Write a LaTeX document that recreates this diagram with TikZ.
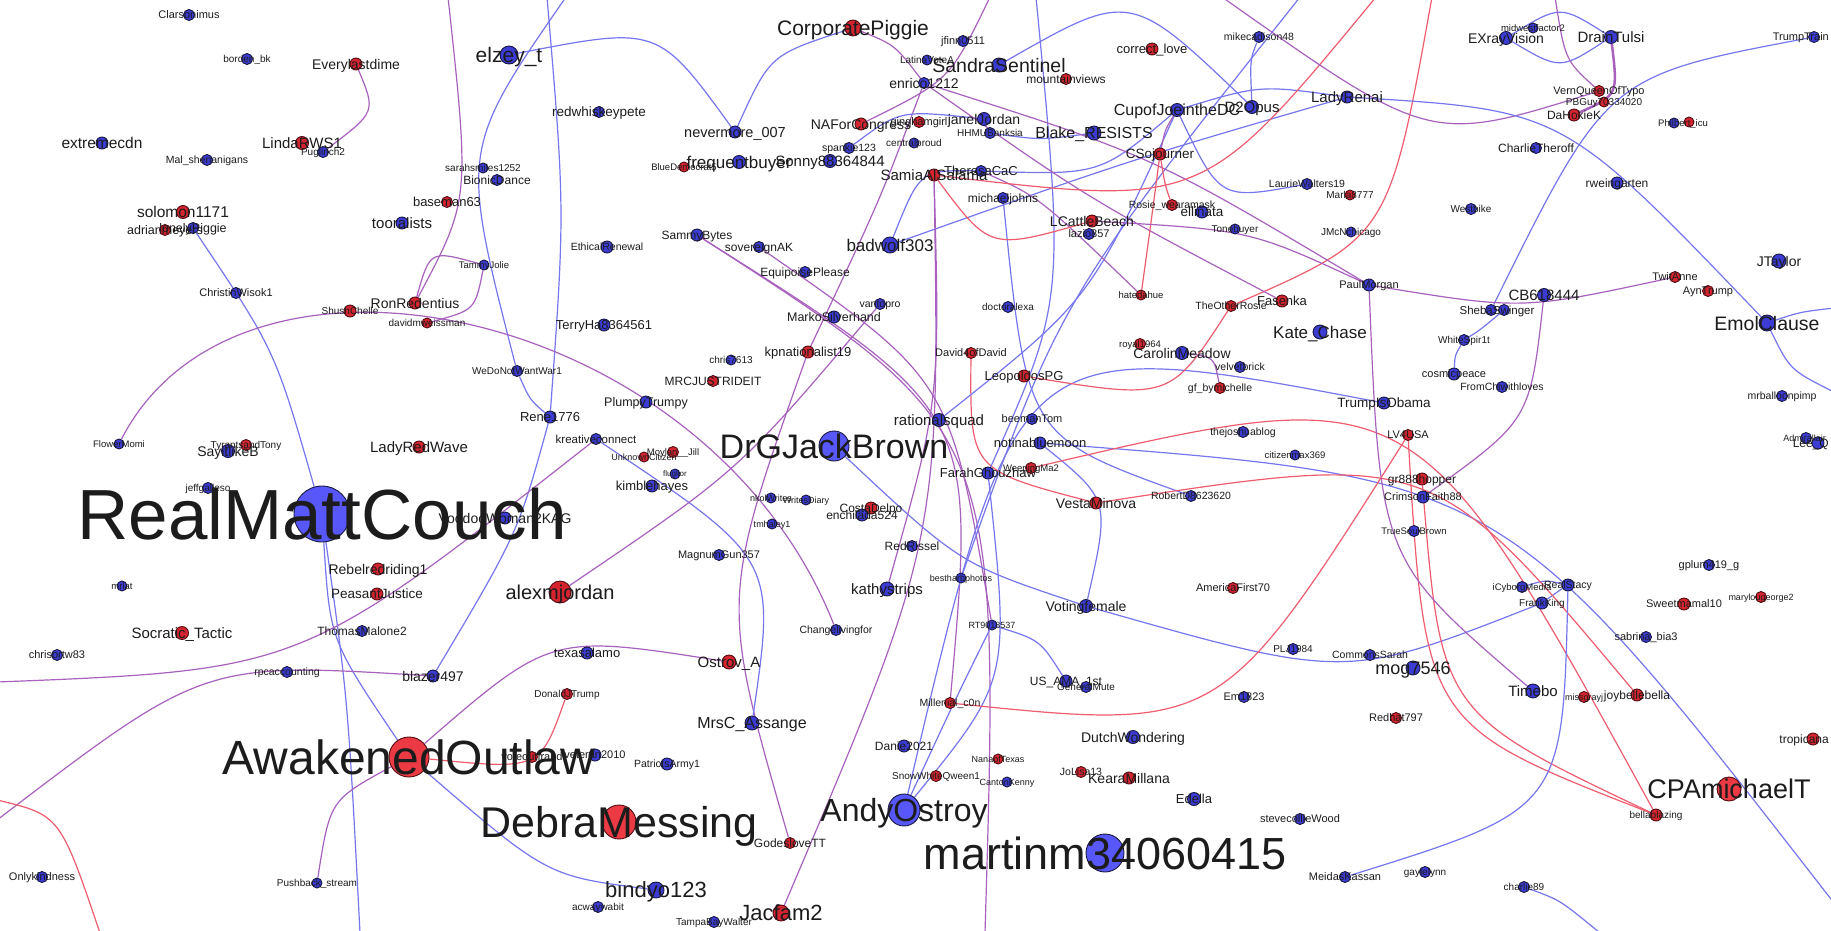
\documentclass[tikz,border=0pt]{standalone}
\usepackage{fontspec}
\setmainfont{Liberation Sans}
\usetikzlibrary{backgrounds}
\definecolor{nblue}{RGB}{60,60,212}
\definecolor{bblue}{RGB}{88,88,250}
\definecolor{nbord}{RGB}{24,24,64}
\definecolor{nred}{RGB}{212,36,48}
\definecolor{bred}{RGB}{236,58,68}
\definecolor{rbord}{RGB}{80,12,18}
\definecolor{eblue}{RGB}{118,118,238}
\definecolor{epurp}{RGB}{168,98,190}
\definecolor{ered}{RGB}{238,92,112}
\definecolor{txt}{RGB}{28,28,28}
\tikzset{
 bn/.style={circle,inner sep=0pt,minimum size=#1pt,fill=nblue,draw=nbord,line width=0.9pt},
 rn/.style={circle,inner sep=0pt,minimum size=#1pt,fill=nred,draw=rbord,line width=0.9pt},
 lbl/.style={inner sep=0pt,text=txt,anchor=base,yshift={-0.36*#1pt},font=\fontsize{#1}{#1}\selectfont},
 eb/.style={draw=eblue,line width=1.2pt},
 ep/.style={draw=epurp,line width=1.2pt},
 er/.style={draw=ered,line width=1.2pt},
}
\newcommand\BN[4]{\ifnum#2>23 \node[bn=#2,fill=bblue] (#1) at (#3,#4) {};\else\node[bn=#2] (#1) at (#3,#4) {};\fi}
\newcommand\RN[4]{\ifnum#2>23 \node[rn=#2,fill=bred] (#1) at (#3,#4) {};\else\node[rn=#2] (#1) at (#3,#4) {};\fi}
\newcommand\LB[3]{\node[lbl=#2] (t#1) at (#1) {#3};}
\begin{document}
\begin{tikzpicture}[x=1pt,y=-1pt]
\useasboundingbox (0,0) rectangle (1831,930);
% ---------------- nodes ----------------
\BN{clar}{11}{189}{15}
\BN{bord}{11}{247}{59}
\RN{every}{12}{356}{64}
\RN{linda}{13}{302}{143}
\BN{pugl}{11}{323}{152}
\BN{extr}{12}{102}{143}
\BN{mal}{11}{207}{160}
\RN{solo}{13}{183}{212}
\RN{adri}{11}{165}{230}
\BN{lonely}{11}{193}{228}
\BN{chrw}{11}{236}{293}
\BN{toor}{12}{402}{223}
\RN{basd}{11}{447}{202}
\RN{ronr}{12}{415}{303}
\RN{shush}{12}{350}{311}
\RN{davw}{10}{427}{323}
\BN{elzey}{18}{509}{55}
\BN{redw}{11}{599}{112}
\BN{never}{12}{735}{132}
\BN{freq}{13}{739}{162}
\RN{blued}{10}{684}{167}
\BN{sonny}{13}{830}{161}
\BN{spank}{11}{849}{148}
\RN{nafor}{12}{861}{124}
\RN{corp}{16}{853}{28}
\BN{latina}{10}{927}{60}
\BN{enric}{11}{924}{83}
\RN{samia}{12}{934}{175}
\BN{theresa}{11}{981}{171}
\BN{bionic}{11}{497}{180}
\BN{sarah}{10}{483}{168}
\BN{tammy}{10}{484}{265}
\BN{ethic}{12}{607}{247}
\BN{sammy}{12}{697}{235}
\BN{sover}{11}{759}{247}
\BN{equi}{11}{805}{272}
\BN{badw}{16}{890}{245}
\BN{vanl}{11}{880}{304}
\BN{jfinn}{11}{963}{41}
\BN{sandra}{14}{999}{65}
\RN{mount}{11}{1066}{79}
\RN{corre}{12}{1152}{49}
\BN{mikec}{11}{1259}{37}
\BN{ladyr}{12}{1347}{97}
\BN{cupj}{13}{1177}{110}
\BN{deplo}{13}{1252}{107}
\BN{janel}{13}{984}{119}
\RN{gingh}{11}{919}{122}
\BN{hhmu}{11}{990}{133}
\BN{centr}{10}{914}{143}
\BN{blake}{14}{1094}{133}
\RN{csoj}{12}{1160}{154}
\BN{laurie}{11}{1307}{184}
\RN{marla}{10}{1350}{195}
\RN{rosie}{11}{1172}{205}
\BN{ellin}{12}{1202}{212}
\BN{toneb}{10}{1235}{229}
\BN{jmcn}{10}{1351}{232}
\BN{micha}{11}{1003}{198}
\RN{lcatt}{12}{1092}{221}
\BN{lazio}{11}{1089}{234}
\RN{hated}{10}{1141}{295}
\RN{fasen}{12}{1282}{301}
\RN{other}{11}{1231}{306}
\BN{paulm}{12}{1369}{285}
\BN{docal}{11}{1008}{307}
\BN{exray}{13}{1506}{38}
\BN{midw}{10}{1533}{28}
\BN{drain}{13}{1611}{37}
\RN{vernq}{11}{1599}{91}
\RN{pbguy}{10}{1604}{102}
\RN{dahok}{12}{1574}{115}
\BN{philb}{10}{1674}{123}
\RN{philr}{10}{1689}{122}
\BN{charl}{11}{1536}{148}
\BN{rwein}{12}{1617}{183}
\BN{wesb}{11}{1471}{209}
\BN{jtay}{14}{1779}{261}
\BN{trumpt}{11}{1814}{37}
\RN{twita}{11}{1675}{277}
\RN{aynt}{11}{1708}{291}
\BN{cbsix}{13}{1544}{295}
\BN{shebA}{11}{1491}{310}
\BN{shebB}{11}{1504}{310}
\BN{flowr}{10}{119}{444}
\BN{sayit}{13}{228}{451}
\RN{tyran}{11}{246}{445}
\BN{jeffg}{11}{208}{488}
\BN{realm}{56}{322}{514}
\RN{ladyrw}{12}{419}{447}
\RN{rebel}{12}{378}{569}
\RN{peasa}{12}{377}{594}
\BN{mrlat}{10}{122}{586}
\BN{voodo}{12}{505}{518}
\BN{terry}{12}{604}{325}
\BN{wedon}{11}{517}{371}
\BN{rene}{12}{550}{417}
\BN{kreat}{11}{596}{439}
\BN{chrsix}{10}{731}{360}
\RN{mrcj}{11}{713}{381}
\BN{plump}{12}{646}{402}
\RN{kpnat}{12}{808}{352}
\BN{marko}{12}{834}{317}
\RN{moyl}{11}{673}{452}
\RN{unkn}{10}{644}{457}
\BN{flug}{10}{675}{474}
\BN{kimb}{12}{652}{486}
\BN{drg}{30}{834}{446}
\BN{nkow}{10}{771}{498}
\BN{wdiary}{10}{806}{500}
\BN{tmhal}{10}{772}{524}
\RN{costa}{12}{871}{508}
\BN{enchi}{12}{862}{515}
\BN{magnu}{11}{719}{555}
\RN{alexm}{22}{560}{592}
\BN{redri}{11}{912}{546}
\BN{kathy}{14}{887}{589}
\BN{ratio}{13}{939}{420}
\RN{david}{11}{971}{353}
\RN{leopo}{12}{1024}{376}
\BN{beema}{11}{1032}{419}
\BN{notin}{12}{1040}{443}
\BN{farah}{12}{988}{473}
\RN{weepi}{11}{1031}{468}
\RN{vesta}{12}{1096}{503}
\BN{rober}{11}{1191}{496}
\RN{royal}{11}{1140}{344}
\BN{carol}{13}{1182}{353}
\BN{velve}{11}{1240}{367}
\RN{gfbym}{11}{1220}{388}
\BN{katec}{14}{1320}{332}
\BN{thejo}{11}{1243}{432}
\BN{citiz}{10}{1295}{455}
\BN{besth}{10}{961}{578}
\BN{votin}{13}{1086}{606}
\RN{ameri}{11}{1233}{588}
\BN{trobam}{12}{1384}{403}
\BN{white}{11}{1464}{340}
\BN{cosmi}{12}{1454}{374}
\BN{fromc}{11}{1502}{387}
\RN{lvusa}{11}{1408}{435}
\RN{greight}{12}{1422}{479}
\BN{crims}{12}{1423}{497}
\BN{trues}{11}{1414}{531}
\BN{icybo}{11}{1522}{587}
\BN{stacy}{12}{1568}{585}
\BN{frank}{12}{1542}{603}
\BN{emolc}{16}{1767}{323}
\BN{mrbal}{11}{1782}{396}
\BN{admir}{11}{1806}{438}
\BN{leeq}{12}{1818}{443}
\BN{gplum}{11}{1709}{565}
\RN{sweet}{12}{1684}{604}
\RN{maryl}{11}{1761}{597}
\RN{socra}{13}{182}{633}
\BN{chrio}{11}{57}{655}
\BN{thoma}{11}{362}{631}
\BN{rpcac}{11}{287}{672}
\BN{blaze}{12}{433}{676}
\RN{awake}{40}{409}{757}
\BN{pushb}{10}{317}{883}
\BN{onlyk}{11}{42}{877}
\BN{texas}{12}{587}{653}
\RN{ostro}{14}{729}{662}
\RN{donal}{11}{567}{694}
\BN{mrsc}{14}{752}{723}
\RN{votew}{11}{532}{757}
\BN{veter}{12}{595}{755}
\BN{patri}{12}{667}{764}
\RN{debra}{34}{619}{822}
\BN{bindy}{16}{656}{890}
\BN{acway}{11}{598}{907}
\BN{tampa}{11}{714}{922}
\RN{jacfa}{16}{781}{913}
\RN{godes}{11}{790}{843}
\BN{chang}{11}{836}{630}
\BN{dani}{12}{904}{746}
\RN{snoww}{11}{936}{776}
\BN{andyo}{32}{904}{810}
\BN{rtnine}{10}{992}{625}
\RN{mille}{11}{950}{703}
\BN{usama}{12}{1066}{681}
\BN{gener}{11}{1086}{687}
\RN{nanao}{10}{998}{759}
\BN{canto}{10}{1007}{782}
\RN{jolis}{11}{1081}{772}
\RN{keara}{12}{1129}{778}
\BN{dutch}{13}{1133}{737}
\BN{emeig}{11}{1244}{697}
\BN{plj}{11}{1293}{649}
\BN{comms}{11}{1370}{655}
\BN{edda}{13}{1194}{799}
\BN{steve}{11}{1300}{819}
\BN{martm}{38}{1105}{853}
\BN{meida}{11}{1345}{877}
\BN{mog}{14}{1413}{668}
\RN{redha}{11}{1396}{718}
\BN{timeb}{14}{1533}{691}
\RN{missg}{11}{1584}{697}
\RN{joybe}{12}{1637}{695}
\BN{sabri}{11}{1646}{637}
\RN{tropi}{12}{1813}{739}
\RN{cpami}{24}{1729}{789}
\RN{bella}{12}{1656}{815}
\BN{gayle}{11}{1425}{872}
\BN{chaeight}{11}{1524}{887}
% free ends
\coordinate (top1) at (566,-3);
\coordinate (top2) at (547,-3);
\coordinate (topA) at (448,-3);
\coordinate (bot1) at (360,933);
\coordinate (bot2) at (985,933);
\coordinate (offL1) at (-3,682);
\coordinate (offL2) at (-3,820);
\coordinate (offR1) at (-3,800);
\coordinate (offR2) at (100,933);
\coordinate (corner) at (1834,903);
\coordinate (topC) at (1036,-3);
\coordinate (topD) at (1300,-3);
\coordinate (topK) at (1432,-3);
\coordinate (topR) at (1376,-3);
\coordinate (topE) at (1555,-3);
\coordinate (topG) at (1222,-3);
\coordinate (topH) at (990,-3);
\coordinate (botR) at (1600,933);
\coordinate (rightE) at (1834,392);
\coordinate (rightF) at (1834,308);
% ---------------- edges ----------------
\begin{scope}[on background layer]
\fill[white] (0,0) rectangle (1831,930);
\draw[eb] (elzey) .. controls (658,26) .. (never);
\draw[eb] (never) .. controls (770,55) .. (corp);
\draw[ep] (every) .. controls (376,112) .. (pugl);
\draw[eb] (lonely) .. controls (275,350) .. (realm);
\draw[eb] (realm) .. controls (348,700) .. (bot1);
\draw[eb] (realm) .. controls (330,640) .. (awake);
\draw[eb] (rene) .. controls (518,533) .. (blaze);
\draw[eb] (top1) .. controls (460,150) .. (wedon);
\draw[eb] (wedon) .. controls (530,400) .. (rene);
\draw[eb] (top2) .. controls (565,210) .. (rene);
\draw[ep] (topA) .. controls (470,200) .. (ronr);
\draw[ep] (tammy) .. controls (430,250) .. (ronr);
\draw[ep] (davw) .. controls (475,310) .. (tammy);
\draw[ep] (flowr) .. controls (240,208) and (708,306) .. (chang);
\draw[ep] (sammy) .. controls (976,411) .. (mille);
\draw[ep] (sammy) .. controls (1000,430) .. (bot2);
\draw[ep] (sover) .. controls (950,380) .. (rtnine);
\draw[ep] (enric) .. controls (880,200) .. (kpnat);
\draw[ep] (kpnat) .. controls (720,600) .. (godes);
\draw[eb] (kreat) .. controls (776,559) .. (mrsc);
\draw[ep] (offL1) .. controls (302,670) .. (kreat);
\draw[ep] (offL2) .. controls (204,662) .. (blaze);
\draw[er] (offR1) .. controls (60,815) .. (offR2);
\draw[ep] (awake) .. controls (330,800) .. (pushb);
\draw[eb] (awake) .. controls (547,876) .. (bindy);
\draw[er] (awake) .. controls (540,770) .. (donal);
\draw[ep] (awake) .. controls (551,634) .. (ostro);
\draw[ep] (jacfa) .. controls (940,540) .. (samia);
\draw[eb] (andyo) .. controls (1016,333) .. (trobam);
\draw[eb] (andyo) .. controls (955,700) .. (rtnine);
\draw[eb] (farah) .. controls (1010,680) .. (andyo);
\draw[eb] (notin) .. controls (1110,500) .. (votin);
\draw[eb] (notin) .. controls (1504,478) .. (corner);
\draw[eb] (votin) .. controls (1346,680) .. (frank);
\draw[eb] (frank) .. controls (1560,590) .. (stacy);
\draw[eb] (icybo) .. controls (1545,580) .. (stacy);
\draw[eb] (micha) .. controls (1027,437) .. (rober);
\draw[er] (david) .. controls (970,470) .. (vesta);
\draw[er] (vesta) .. controls (1433,451) .. (joybe);
\draw[er] (weepi) .. controls (1416,378) .. (bella);
\draw[er] (leopo) .. controls (1170,400) .. (other);
\draw[er] (other) .. controls (1389,237) .. (topK);
\draw[ep] (carol) .. controls (1214,357) .. (gfbym);
\draw[eb] (topC) .. controls (1065,300) .. (farah);
\draw[eb] (besth) .. controls (1060,300) .. (topD);
\draw[eb] (ratio) .. controls (1090,300) .. (cupj);
\draw[eb] (cupj) .. controls (1220,200) .. (laurie);
\draw[eb] (cupj) .. controls (1260,85) .. (ladyr);
\draw[eb] (deplo) .. controls (1250,60) .. (mikec);
\draw[eb] (sandra) .. controls (1130,-10) .. (deplo);
\draw[eb] (hhmu) .. controls (1040,140) .. (blake);
\draw[eb] (theresa) .. controls (1100,175) .. (cupj);
\draw[eb] (badw) .. controls (920,170) .. (theresa);
\draw[eb] (spank) .. controls (900,110) .. (janel);
\draw[eb] (badw) .. controls (1130,160) .. (ladyr);
\draw[ep] (enric) .. controls (1153,156) .. (paulm);
\draw[ep] (enric) .. controls (1090,200) .. (fasen);
\draw[ep] (theresa) .. controls (1039,197) .. (hated);
\draw[ep] (cupj) .. controls (1165,130) .. (csoj);
\draw[er] (csoj) .. controls (1165,185) .. (rosie);
\draw[er] (csoj) .. controls (1150,230) .. (hated);
\draw[er] (samia) .. controls (990,250) .. (lcatt);
\draw[ep] (lcatt) .. controls (1250,230) .. (paulm);
\draw[er] (samia) .. controls (1203,207) .. (topR);
\draw[eb] (exray) .. controls (1560,5) .. (drain);
\draw[eb] (exray) .. controls (1560,70) .. (drain);
\draw[ep,line width=2.5pt] (drain) .. controls (1618,95) .. (dahok);
\draw[ep] (topE) .. controls (1565,60) .. (vernq);
\draw[ep] (topG) .. controls (1430,144) .. (vernq);
\draw[eb] (ladyr) .. controls (1563,110) .. (emolc);
\draw[eb] (shebA) .. controls (1607,76) .. (trumpt);
\draw[eb] (shebB) .. controls (1480,330) .. (white);
\draw[eb] (white) .. controls (1455,355) .. (cosmi);
\draw[ep] (paulm) .. controls (1522,310) .. (twita);
\draw[ep] (cbsix) .. controls (1530,420) .. (crims);
\draw[er] (greight) .. controls (1441,713) .. (bella);
\draw[er] (lvusa) .. controls (1425,725) .. (bella);
\draw[ep] (paulm) .. controls (1380,560) .. (timeb);
\draw[er] (mille) .. controls (1221,731) .. (lvusa);
\draw[eb] (rtnine) .. controls (1040,640) .. (usama);
\draw[ep] (alexm) .. controls (740,470) .. (vanl);
\draw[ep] (samia) .. controls (940,400) .. (kathy);
\draw[eb] (drg) .. controls (960,564) .. (votin);
\draw[eb] (meida) .. controls (1563,809) .. (stacy);
\draw[eb] (chaeight) .. controls (1560,900) .. (botR);
\draw[eb] (emolc) .. controls (1790,370) .. (rightE);
\draw[eb] (emolc) .. controls (1800,312) .. (rightF);
\draw[ep] (topH) .. controls (950,80) .. (nafor);
\draw[ep] (corp) .. controls (895,45) .. (enric);
\end{scope}
% ---------------- labels ----------------
\LB{clar}{11}{Clarsonimus}
\LB{bord}{10}{borden\_bk}
\LB{every}{14}{Everylastdime}
\LB{linda}{15}{LindaRWS1}
\LB{pugl}{10}{Puglinch2}
\LB{extr}{15.5}{extremecdn}
\LB{mal}{10.5}{Mal\_shenanigans}
\LB{solo}{15.5}{solomon1171}
\LB{adri}{12.5}{adrianmeyers}
\LB{lonely}{12.5}{lonelyPiggie}
\LB{chrw}{11}{ChristinWisok1}
\LB{toor}{15}{tooralists}
\LB{basd}{13}{baseman63}
\LB{ronr}{14}{RonRedentius}
\LB{shush}{10}{ShushChelle}
\LB{davw}{10}{davidmweissman}
\LB{elzey}{21}{elzey\_t}
\LB{redw}{13.5}{redwhiskeypete}
\LB{never}{14.5}{nevermore\_007}
\LB{freq}{17}{frequentbuyer}
\LB{blued}{9.5}{BlueDemocrat5}
\LB{sonny}{15}{Sonny88364844}
\LB{spank}{10.5}{spankie123}
\LB{nafor}{14}{NAForCongress}
\LB{corp}{21}{CorporatePiggie}
\LB{latina}{10}{LatinaVoteA}
\LB{enric}{14}{enrico1212}
\LB{samia}{15}{SamiaAlSalama}
\LB{theresa}{13}{TheresaCaC}
\LB{bionic}{12}{BionicDance}
\LB{sarah}{10}{sarahsmiles1252}
\LB{tammy}{9.5}{TammyJolie}
\LB{ethic}{10.5}{EthicalRenewal}
\LB{sammy}{12}{SammyBytes}
\LB{sover}{12}{sovereignAK}
\LB{equi}{12}{EquipoisePlease}
\LB{badw}{17}{badwolf303}
\LB{vanl}{10.5}{vantopro}
\LB{jfinn}{11}{jfinn0511}
\LB{sandra}{19.5}{SandraSentinel}
\LB{mount}{12}{mountainviews}
\LB{corre}{13}{correct\_love}
\LB{mikec}{10.5}{mikecadison48}
\LB{ladyr}{15}{LadyRenai}
\LB{cupj}{16}{CupofJoeintheDC}
\LB{deplo}{15}{D2Opus}
\LB{janel}{14}{janelJordan}
\LB{gingh}{11}{ginghamgirl}
\LB{hhmu}{10}{HHMUBanksia}
\LB{centr}{10}{centralproud}
\LB{blake}{16}{Blake\_RESISTS}
\LB{csoj}{13.5}{CSojourner}
\LB{laurie}{10.5}{LaurieWalters19}
\LB{marla}{10}{Marla8777}
\LB{rosie}{10.5}{Rosie\_wearamask}
\LB{ellin}{13.5}{ellinata}
\LB{toneb}{10}{Tonebuyer}
\LB{jmcn}{10}{JMcNchicago}
\LB{micha}{12}{michaeljohns}
\LB{lcatt}{14}{LCattleBeach}
\LB{lazio}{11}{lazio857}
\LB{hated}{9.5}{hatedahue}
\LB{fasen}{13}{Fasenka}
\LB{other}{10.5}{TheOtherRosie}
\LB{paulm}{11}{PaulMorgan}
\LB{docal}{10}{doctoralexa}
\LB{exray}{14}{EXrayVision}
\LB{midw}{9.5}{midwestfactor2}
\LB{drain}{15}{DrainTulsi}
\LB{vernq}{11}{VernQueenOfTypo}
\LB{pbguy}{10}{PBGuy70334020}
\LB{dahok}{12}{DaHokieK}
\node[lbl=9.5] (tphil) at (1683,123) {Philbert\_icu};
\LB{charl}{12}{CharlieTheroff}
\LB{rwein}{12}{rweingarten}
\LB{wesb}{10}{Westbike}
\LB{jtay}{14}{JTaylor}
\node[lbl=11,anchor=base east] (ttrumpt) at (1829,37) {TrumpTrain};
\LB{twita}{11}{TwitAnne}
\LB{aynt}{11}{AynTrump}
\LB{cbsix}{15}{CB618444}
\node[lbl=11.5] (tsheb) at (1497,310) {ShebaSwinger};
\LB{flowr}{9.5}{FlowerMomi}
\LB{sayit}{14}{SayitlikeB}
\LB{tyran}{10}{TyrantsandTony}
\LB{jeffg}{10}{jeffgalleso}
\LB{realm}{71}{RealMattCouch}
\LB{ladyrw}{15}{LadyRedWave}
\LB{rebel}{14}{Rebelredriding1}
\LB{peasa}{13.5}{PeasantJustice}
\LB{mrlat}{9.5}{mrlat}
\LB{voodo}{14}{VoodooWoman2KAG}
\LB{terry}{13}{TerryHa8364561}
\LB{wedon}{10}{WeDoNotWantWar1}
\LB{rene}{13}{Rene1776}
\LB{kreat}{11.5}{kreativeconnect}
\LB{chrsix}{10}{chris7613}
\LB{mrcj}{12}{MRCJUSTRIDEIT}
\LB{plump}{12.5}{PlumpyTrumpy}
\LB{kpnat}{13}{kpnationalist19}
\LB{marko}{12.5}{MarkoSilverhand}
\LB{moyl}{9.5}{Moylan\_\_Jill}
\LB{unkn}{9}{UnknownCitizen}
\LB{flug}{8}{fluglior}
\LB{kimb}{13}{kimblehayes}
\LB{drg}{34}{DrGJackBrown}
\LB{nkow}{9}{nkolWrites}
\LB{wdiary}{9}{WritesDiary}
\LB{tmhal}{9}{tmhaley1}
\LB{costa}{12}{CostaDelpo}
\LB{enchi}{12}{enchilada524}
\LB{magnu}{11}{MagnumGun357}
\LB{alexm}{20}{alexmjordan}
\LB{redri}{12}{RedRissel}
\LB{kathy}{15}{kathystrips}
\LB{ratio}{15}{rationalsquad}
\LB{david}{11}{David4ofDavid}
\LB{leopo}{13}{LeopoldosPG}
\LB{beema}{11}{beemanTom}
\LB{notin}{13}{notinabluemoon}
\LB{farah}{13}{FarahGhouzhaw}
\LB{weepi}{9.5}{WeepingMa2}
\LB{vesta}{14}{VestaMinova}
\LB{rober}{10.5}{RobertD8623620}
\LB{royal}{9.5}{royal1964}
\LB{carol}{14}{CarolinMeadow}
\LB{velve}{10.5}{velvetbrick}
\LB{gfbym}{10.5}{gf\_bymichelle}
\LB{katec}{17}{Kate\_Chase}
\LB{thejo}{10.5}{thejoshuablog}
\LB{citiz}{9.5}{citizenmax369}
\LB{besth}{9}{bestharbphotos}
\LB{votin}{14}{Votingfemale}
\LB{ameri}{11}{AmericaFirst70}
\LB{trobam}{13.5}{TrumpIsObama}
\LB{white}{10}{WhiteSpir1t}
\LB{cosmi}{11}{cosmicpeace}
\LB{fromc}{10.5}{FromChiwithloves}
\LB{lvusa}{11}{LV4USA}
\LB{greight}{12}{gr888hopper}
\LB{crims}{11}{CrimsonFaith88}
\LB{trues}{9.5}{TrueSoulBrown}
\LB{icybo}{9.5}{iCyborgMedia}
\LB{stacy}{10.5}{RealStacy}
\LB{frank}{10}{FrankKing}
\LB{emolc}{19.5}{EmolClause}
\LB{mrbal}{10.5}{mrballoonpimp}
\node[lbl=9,anchor=base east] (tadmir) at (1826,438) {Admirallair};
\node[lbl=12,anchor=base east] (tleeq) at (1829,443) {Lee\_Q};
\LB{gplum}{11}{gplum419\_g}
\LB{sweet}{11}{Sweetmamal10}
\LB{maryl}{9}{marylougeorge2}
\LB{socra}{15}{Socratic\_Tactic}
\LB{chrio}{11}{chrisortw83}
\LB{thoma}{12}{ThomasMalone2}
\LB{rpcac}{10.5}{rpcaccounting}
\LB{blaze}{14}{blazer497}
\LB{awake}{48}{AwakenedOutlaw}
\LB{pushb}{10}{Pushback\_stream}
\LB{onlyk}{11}{Onlykindness}
\LB{texas}{13}{texasalamo}
\LB{ostro}{15}{Ostrov\_A}
\LB{donal}{10}{DonaldJTrump}
\LB{mrsc}{16}{MrsC\_Assange}
\LB{votew}{11}{voteoutfraud}
\LB{veter}{11}{veteran2010}
\LB{patri}{10.5}{PatriotsArmy1}
\LB{debra}{43}{DebraMessing}
\LB{bindy}{22}{bindyo123}
\LB{acway}{10}{acwaywabit}
\LB{tampa}{10}{TampaBayWalter}
\LB{jacfa}{22}{Jacfam2}
\LB{godes}{12}{GodesloveTT}
\LB{chang}{10.5}{Changelivingfor}
\LB{dani}{12}{Danie2021}
\LB{snoww}{10}{SnowWhiteQween1}
\LB{andyo}{32}{AndyOstroy}
\LB{rtnine}{9}{RT9018537}
\LB{mille}{10.5}{Millenial\_c0n}
\LB{usama}{12}{US\_AMA\_1st}
\LB{gener}{10}{GeneralMute}
\LB{nanao}{9}{NanaofTexas}
\LB{canto}{9}{CantonKenny}
\LB{jolis}{10.5}{JoLisa13}
\LB{keara}{14}{KearaMillana}
\LB{dutch}{14}{DutchWondering}
\LB{emeig}{11}{Em1823}
\LB{plj}{10}{PLJ1984}
\LB{comms}{10.5}{CommonsSarah}
\LB{edda}{13}{Edella}
\LB{steve}{11}{stevecollieWood}
\LB{martm}{45}{martinm34060415}
\LB{meida}{11}{MeidasKassan}
\LB{mog}{18}{mog7546}
\LB{redha}{11}{Redhat797}
\LB{timeb}{15}{Timebo}
\LB{missg}{9}{missgrayj}
\LB{joybe}{12}{joybellebella}
\LB{sabri}{11}{sabrina\_bia3}
\node[lbl=12,anchor=base east] (ttropi) at (1829,739) {tropicana};
\LB{cpami}{27}{CPAmichaelT}
\LB{bella}{10}{bellablazing}
\LB{gayle}{10}{gaylelynn}
\LB{chaeight}{10}{charlie89}
\end{tikzpicture}
\end{document}
